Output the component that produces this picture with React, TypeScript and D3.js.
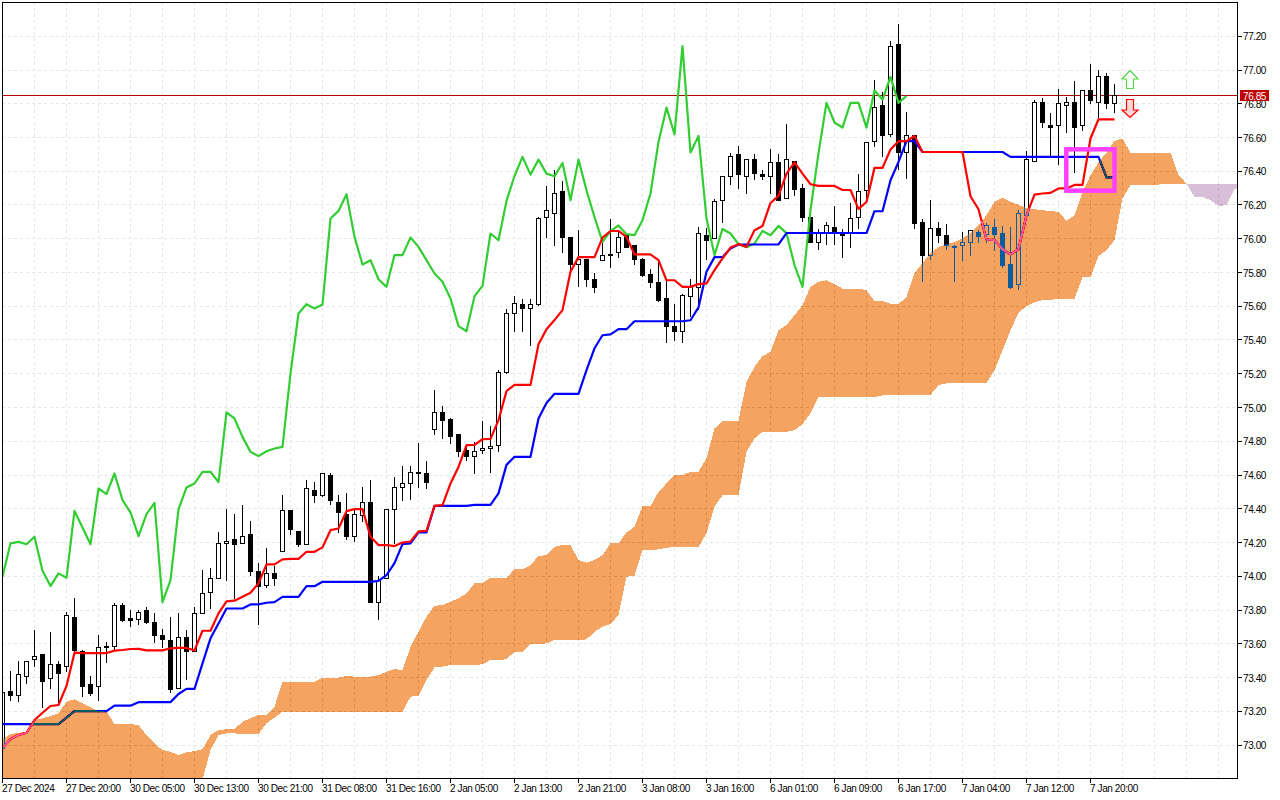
import React from "react";
import * as d3 from "d3";

const opens = [
  72.98,73.319,73.292,73.404,73.507,73.537,73.394,73.477,73.464,73.756,
  73.554,73.359,73.345,73.576,73.582,73.827,73.748,73.744,73.797,73.726,
  73.649,73.62,73.335,73.637,73.554,73.779,73.904,73.987,74.194,74.218,
  74.194,74.248,74.028,73.945,74.017,74.147,74.39,74.263,74.188,74.51,
  74.477,74.597,74.437,74.368,74.234,74.358,74.437,73.843,73.985,74.396,
  74.528,74.55,74.607,74.611,74.87,74.972,74.931,74.84,74.745,74.708,
  74.745,74.757,74.775,75.208,75.557,75.613,75.587,75.61,76.126,76.15,
  76.28,76.008,75.848,75.877,75.759,75.869,75.905,75.917,76.021,75.96,
  75.879,75.788,75.741,75.646,75.482,75.448,75.655,75.711,76.021,76.0,
  76.227,76.369,76.5,76.369,76.47,76.383,76.371,76.452,76.239,76.456,
  76.297,76.125,75.977,76.031,76.066,76.031,76.031,76.125,76.288,76.574,
  76.791,76.617,77.153,76.509,76.609,76.096,75.9,76.06,76.021,75.952,
  75.96,75.978,76.039,76.027,76.067,76.031,75.849,75.727,76.135,76.455,
  76.807,76.671,76.671,76.787,76.807,76.669,76.878,76.807,76.96,76.802,
];
const highs = [
  73.474,73.438,73.497,73.497,73.681,73.539,73.669,73.497,73.79,73.87,
  73.562,73.408,73.651,73.61,73.839,73.839,73.799,73.799,73.817,73.783,
  73.685,73.758,73.781,73.679,73.815,74.036,74.046,74.261,74.398,74.368,
  74.421,74.327,74.076,74.165,74.06,74.479,74.39,74.263,74.569,74.556,
  74.613,74.609,74.481,74.496,74.392,74.528,74.57,74.001,74.396,74.589,
  74.656,74.652,74.789,74.682,75.103,75.008,74.935,74.842,74.763,74.797,
  74.919,74.89,75.221,75.581,75.66,75.642,75.642,76.126,76.312,76.41,
  76.341,76.008,76.051,75.877,75.8,75.972,76.12,76.041,76.021,75.962,
  75.883,75.818,75.863,75.755,75.611,75.672,75.761,76.067,76.063,76.238,
  76.367,76.511,76.547,76.47,76.5,76.41,76.529,76.5,76.679,76.456,
  76.323,76.189,76.06,76.098,76.193,76.06,76.209,76.386,76.57,76.939,
  76.87,77.17,77.271,76.75,76.609,76.12,76.228,76.098,76.09,75.962,
  76.041,76.051,76.051,76.096,76.12,76.074,76.07,76.169,76.519,76.821,
  76.837,76.746,76.89,76.841,76.933,76.88,77.034,77.0,76.98,76.92,
];
const lows = [
  72.98,73.262,73.256,73.36,73.464,73.217,73.333,73.246,73.434,73.552,
  73.286,73.292,73.26,73.487,73.562,73.726,73.697,73.712,73.716,73.606,
  73.574,73.306,73.329,73.385,73.552,73.779,73.805,73.987,73.973,73.866,
  74.194,74.003,73.712,73.928,73.943,74.145,74.244,74.175,74.188,74.435,
  74.471,74.421,74.257,74.214,74.204,74.323,73.843,73.74,73.985,74.194,
  74.445,74.451,74.524,74.516,74.836,74.814,74.783,74.707,74.684,74.605,
  74.724,74.613,74.737,75.2,75.449,75.449,75.364,75.6,76.006,75.958,
  75.917,75.814,75.715,75.715,75.676,75.869,75.826,75.885,75.946,75.844,
  75.776,75.711,75.626,75.385,75.395,75.385,75.537,75.577,75.873,76.0,
  76.094,76.318,76.294,76.268,76.347,76.347,76.264,76.225,76.239,76.254,
  76.1,75.977,75.932,75.962,75.962,75.887,75.946,76.06,76.209,76.544,
  76.485,76.604,76.406,76.357,76.06,75.744,75.877,75.972,75.932,75.745,
  75.869,75.899,75.976,75.972,75.926,75.828,75.7,75.695,76.128,76.455,
  76.657,76.485,76.436,76.627,76.387,76.637,76.801,76.713,76.77,76.746,
];
const closes = [
  73.31,73.292,73.418,73.493,73.525,73.375,73.477,73.422,73.768,73.562,
  73.345,73.304,73.578,73.584,73.827,73.736,73.74,73.785,73.724,73.647,
  73.623,73.327,73.637,73.554,73.779,73.898,73.987,74.194,74.206,74.188,
  74.236,74.026,73.937,74.017,73.987,74.39,74.277,74.186,74.52,74.481,
  74.609,74.447,74.376,74.234,74.368,74.437,73.843,73.973,74.396,74.528,
  74.55,74.615,74.615,74.554,74.97,74.925,74.826,74.737,74.708,74.739,
  74.757,74.769,75.207,75.557,75.617,75.585,75.611,76.12,76.168,76.268,
  76.006,75.848,75.877,75.759,75.711,75.899,75.899,76.008,75.946,75.875,
  75.784,75.739,75.636,75.478,75.448,75.662,75.715,76.03,75.987,76.218,
  76.367,76.486,76.381,76.47,76.385,76.367,76.452,76.225,76.468,76.292,
  76.125,75.977,76.031,76.078,76.037,76.017,76.12,76.28,76.57,76.777,
  76.613,77.139,76.509,76.611,76.09,75.898,76.06,76.017,75.962,75.946,
  75.978,76.049,76.015,76.079,76.027,75.843,75.709,76.15,76.47,76.807,
  76.687,76.657,76.8,76.807,76.657,76.876,76.817,76.96,76.8,76.847,
];

const tenkan = [
  72.982,73.035,73.059,73.073,73.148,73.191,73.231,73.237,73.35,73.547,
  73.545,73.545,73.545,73.545,73.559,73.563,73.569,73.57,73.561,73.561,
  73.561,73.573,73.575,73.575,73.561,73.677,73.677,73.78,73.851,73.855,
  73.878,73.902,73.958,74.07,74.07,74.1,74.103,74.103,74.145,74.145,
  74.171,74.273,74.283,74.386,74.398,74.398,74.234,74.185,74.185,74.179,
  74.2,74.206,74.266,74.269,74.417,74.421,74.55,74.648,74.777,74.779,
  74.812,74.814,74.925,75.097,75.134,75.134,75.134,75.375,75.464,75.518,
  75.577,75.804,75.891,75.891,75.891,76.007,76.046,76.046,76.011,75.907,
  75.907,75.907,75.873,75.754,75.754,75.715,75.715,75.731,75.735,75.814,
  75.883,75.948,75.968,75.952,76.051,76.075,76.212,76.254,76.386,76.453,
  76.386,76.323,76.313,76.313,76.313,76.289,76.289,76.177,76.218,76.42,
  76.42,76.529,76.578,76.578,76.609,76.514,76.514,76.514,76.514,76.514,
  76.514,76.252,76.175,75.994,75.993,75.938,75.907,75.938,76.14,76.262,
  76.268,76.272,76.298,76.298,76.319,76.319,76.594,76.708,76.708,76.708,
];
const kijun = [
  73.124,73.124,73.124,73.124,73.124,73.124,73.124,73.124,73.162,73.201,
  73.201,73.201,73.201,73.201,73.233,73.233,73.233,73.254,73.254,73.254,
  73.254,73.254,73.302,73.333,73.333,73.484,73.632,73.72,73.809,73.809,
  73.809,73.833,73.833,73.843,73.847,73.878,73.878,73.878,73.941,73.941,
  73.967,73.967,73.967,73.967,73.967,73.967,73.967,73.973,74.007,74.078,
  74.19,74.195,74.26,74.26,74.417,74.417,74.417,74.417,74.417,74.423,
  74.423,74.423,74.491,74.66,74.708,74.708,74.708,74.935,75.027,75.081,
  75.081,75.081,75.081,75.221,75.351,75.428,75.433,75.464,75.464,75.511,
  75.511,75.511,75.511,75.511,75.511,75.511,75.517,75.593,75.804,75.891,
  75.891,75.942,75.966,75.966,75.966,75.966,75.966,75.966,76.034,76.034,
  76.034,76.034,76.034,76.034,76.034,76.034,76.034,76.034,76.034,76.163,
  76.163,76.347,76.455,76.578,76.578,76.514,76.514,76.514,76.514,76.514,
  76.514,76.514,76.514,76.514,76.514,76.514,76.485,76.485,76.485,76.485,
  76.485,76.485,76.485,76.485,76.485,76.485,76.485,76.485,76.364,76.364,
];
const chikou = [
  73.997,74.195,74.204,74.19,74.234,74.032,73.942,74.017,73.991,74.387,
  74.289,74.19,74.52,74.487,74.609,74.451,74.378,74.238,74.368,74.435,
  73.847,73.977,74.396,74.526,74.55,74.619,74.619,74.558,74.971,74.935,
  74.826,74.737,74.712,74.741,74.757,74.767,75.202,75.557,75.612,75.587,
  75.61,76.12,76.165,76.264,76.011,75.847,75.873,75.76,75.715,75.903,
  75.903,76.007,75.952,75.873,75.794,75.745,75.646,75.482,75.452,75.66,
  75.721,76.031,75.991,76.224,76.372,76.485,76.38,76.469,76.386,76.37,
  76.449,76.228,76.469,76.287,76.129,75.981,76.045,76.079,76.027,76.021,
  76.11,76.268,76.574,76.777,76.619,77.141,76.511,76.609,76.12,75.903,
  76.058,76.031,75.968,75.95,75.972,76.046,76.021,76.076,76.033,75.844,
  75.715,76.169,76.507,76.805,76.689,76.659,76.805,76.805,76.659,76.878,
  76.825,76.959,76.805,76.846,
];
const senkouA = [
  73.035,73.065,73.073,73.077,73.148,73.158,73.172,73.188,73.257,73.271,
  73.247,73.223,73.201,73.197,73.124,73.124,73.124,73.118,73.059,73.01,
  72.97,72.96,72.941,72.957,72.964,72.975,73.059,73.089,73.093,73.093,
  73.138,73.158,73.178,73.178,73.227,73.373,73.373,73.373,73.373,73.373,
  73.399,73.399,73.399,73.409,73.405,73.405,73.405,73.415,73.434,73.45,
  73.444,73.582,73.671,73.76,73.825,73.829,73.849,73.869,73.899,73.958,
  73.961,73.991,73.991,73.991,74.041,74.041,74.066,74.12,74.125,74.175,
  74.185,74.185,74.096,74.08,74.096,74.125,74.195,74.195,74.26,74.293,
  74.415,74.415,74.5,74.55,74.6,74.6,74.619,74.619,74.698,74.876,
  74.919,74.919,74.919,75.152,75.241,75.304,75.33,75.458,75.488,75.547,
  75.606,75.715,75.745,75.754,75.731,75.705,75.705,75.705,75.695,75.632,
  75.63,75.616,75.612,75.655,75.796,75.855,75.914,75.95,75.968,75.98,
  76.003,76.035,76.08,76.14,76.218,76.244,76.219,76.202,76.181,76.175,
  76.169,76.163,76.16,76.106,76.14,76.273,76.376,76.452,76.511,76.58,
  76.594,76.511,76.511,76.511,76.511,76.511,76.511,76.376,76.327,76.248,
  76.248,76.228,76.195,76.199,76.292,76.337,
];
const senkouB = [
  72.6,72.6,72.6,72.6,72.6,72.6,72.6,72.6,72.6,72.6,
  72.6,72.6,72.6,72.6,72.6,72.6,72.6,72.6,72.6,72.6,
  72.6,72.6,72.6,72.6,72.65,72.797,72.97,73.059,73.069,73.069,
  73.065,73.065,73.065,73.129,73.162,73.197,73.197,73.197,73.197,73.197,
  73.197,73.197,73.197,73.197,73.197,73.197,73.197,73.197,73.197,73.197,
  73.197,73.286,73.292,73.385,73.46,73.464,73.474,73.474,73.474,73.474,
  73.478,73.504,73.504,73.508,73.553,73.553,73.597,73.599,73.602,73.622,
  73.622,73.622,73.622,73.626,73.671,73.701,73.717,73.77,73.997,74.003,
  74.155,74.155,74.159,74.169,74.173,74.173,74.173,74.173,74.256,74.412,
  74.481,74.481,74.481,74.737,74.817,74.856,74.856,74.856,74.856,74.866,
  74.902,74.965,75.062,75.062,75.062,75.062,75.062,75.062,75.062,75.062,
  75.072,75.074,75.074,75.074,75.074,75.074,75.074,75.133,75.143,75.143,
  75.143,75.143,75.143,75.146,75.221,75.34,75.458,75.562,75.6,75.624,
  75.636,75.639,75.642,75.642,75.645,75.772,75.772,75.897,75.932,75.991,
  76.24,76.319,76.319,76.319,76.319,76.323,76.323,76.323,76.327,76.327,
  76.327,76.327,76.327,76.327,76.327,76.327,
];

const priceTicks = d3.range(73, 77.21, 0.2);
const timeLabels = [
  "27 Dec 2024","27 Dec 20:00","30 Dec 05:00","30 Dec 13:00","30 Dec 21:00","31 Dec 08:00",
  "31 Dec 16:00","2 Jan 05:00","2 Jan 13:00","2 Jan 21:00","3 Jan 08:00","3 Jan 16:00",
  "6 Jan 01:00","6 Jan 09:00","6 Jan 17:00","7 Jan 04:00","7 Jan 12:00","7 Jan 20:00",
];
const lastPrice = 76.85;
const signalBoxFrom = 133;
const signalBoxTo = 139;
const signalBoxHigh = 76.53;
const signalBoxLow = 76.285;

const LEFT = 2, RIGHT = 1238, TOP = 2, BOTTOM = 779;
const FONT = "'Liberation Sans', Arial, sans-serif";
const x = d3.scaleLinear().domain([0, 1]).range([2.5, 10.5]);
const y = d3.scaleLinear().domain([73, 77.2]).range([745, 36.25]);
const snap = (v: number) => Math.round(v - 0.5) + 0.5;

const lineOf = d3.line<number>().x((_, i) => x(i)).y((d) => y(d));
const cloudIdx = d3.range(senkouA.length);
const areaOf = d3.area<number>().x((i) => x(i)).y0((i) => y(senkouB[i])).y1((i) => y(senkouA[i]));
const bullIdx = cloudIdx.filter((i) => i <= 148);
const bearIdx = cloudIdx.filter((i) => i >= 148);

const verticalGrid = d3.range(Math.ceil((RIGHT - 2.5) / 32)).map((k) => x(k * 4));

export default function App() {
  const boxL = x(signalBoxFrom) - 0.2;
  const boxR = x(signalBoxTo);
  const priceY = snap(y(lastPrice));
  return (
    <svg
      width={1280}
      height={800}
      viewBox="0 0 1280 800"
      style={{ position: "fixed", left: 0, top: 0, display: "block", background: "#fff" }}
    >
      <defs>
        <clipPath id="plot">
          <rect x={LEFT} y={TOP} width={RIGHT - LEFT} height={BOTTOM - TOP} />
        </clipPath>
      </defs>
      <g clipPath="url(#plot)" style={{ isolation: "isolate" }}>
        <rect x={0} y={0} width={1280} height={800} fill="#fff" />
        <g stroke="#e6e6e6" strokeWidth={1} strokeDasharray="3 3" shapeRendering="crispEdges">
          {priceTicks.map((t) => (
            <line key={t} x1={LEFT} x2={RIGHT} y1={snap(y(t))} y2={snap(y(t))} />
          ))}
          {verticalGrid.map((g) => (
            <line key={g} x1={g} x2={g} y1={TOP} y2={BOTTOM} />
          ))}
        </g>
        <line x1={LEFT} x2={RIGHT} y1={priceY} y2={priceY} stroke="#b40000" strokeWidth={1} shapeRendering="crispEdges" />
        <g shapeRendering="crispEdges">
          {opens.map((o, i) => {
            const c = closes[i];
            const top = snap(y(Math.max(o, c)));
            const bot = snap(y(Math.min(o, c)));
            return (
              <g key={i}>
                <line x1={x(i)} x2={x(i)} y1={y(highs[i])} y2={y(lows[i])} stroke="#000" strokeWidth={1} />
                <rect
                  x={x(i) - 2}
                  y={top}
                  width={4}
                  height={Math.max(bot - top, 1)}
                  fill={c >= o ? "#fff" : "#000"}
                  stroke="#000"
                  strokeWidth={1}
                />
              </g>
            );
          })}
        </g>
        <g fill="none" strokeWidth={2.2} strokeLinejoin="round">
          <path d={lineOf(chikou) ?? ""} stroke="#32cd32" />
          <path d={lineOf(kijun) ?? ""} stroke="#0000ff" />
          <path d={lineOf(tenkan) ?? ""} stroke="#ff0000" />
        </g>
        <g style={{ mixBlendMode: "difference" }} shapeRendering="crispEdges">
          <path d={areaOf(bullIdx) ?? ""} fill="#0b5b9f" />
          <path d={areaOf(bearIdx) ?? ""} fill="#274027" />
        </g>
      </g>

      <rect
        x={boxL}
        y={y(signalBoxHigh)}
        width={boxR - boxL}
        height={y(signalBoxLow) - y(signalBoxHigh)}
        fill="none"
        stroke="#ff40ff"
        strokeWidth={4.5}
      />

      <path
        d="M1130 70.5 L1138 79 L1133.5 79 L1133.5 88.5 L1126.5 88.5 L1126.5 79 L1122 79 Z"
        fill="#fff"
        stroke="#55d84a"
        strokeWidth={1.2}
      />
      <path
        d="M1130 117.5 L1138 110 L1133.5 110 L1133.5 99.5 L1126.5 99.5 L1126.5 110 L1122 110 Z"
        fill="#ffd6d6"
        stroke="#ff0000"
        strokeWidth={1.2}
      />

      <g shapeRendering="crispEdges" stroke="#000" strokeWidth={1}>
        <line x1={LEFT} x2={RIGHT} y1={2.5} y2={2.5} />
        <line x1={2.5} x2={2.5} y1={2} y2={BOTTOM} />
        <line x1={RIGHT - 0.5} x2={RIGHT - 0.5} y1={2} y2={BOTTOM} />
        <line x1={LEFT} x2={RIGHT} y1={BOTTOM - 0.5} y2={BOTTOM - 0.5} />
        {priceTicks.map((t) => (
          <line key={t} x1={RIGHT - 0.5} x2={RIGHT + 4} y1={snap(y(t))} y2={snap(y(t))} />
        ))}
        {timeLabels.map((_, k) => (
          <line key={k} x1={x(k * 8)} x2={x(k * 8)} y1={BOTTOM} y2={BOTTOM + 4} />
        ))}
      </g>
      <g fontFamily={FONT} fontSize={10} letterSpacing={-0.4} fill="#000">
        {priceTicks.map((t) => (
          <text key={t} x={1243} y={y(t) + 4.2}>
            {t.toFixed(2)}
          </text>
        ))}
        {timeLabels.map((l, k) => (
          <text key={l} x={x(k * 8) - 0.5} y={792}>
            {l}
          </text>
        ))}
      </g>
      <rect x={1240} y={90} width={29} height={11} fill="#c00000" />
      <text x={1243} y={y(lastPrice) + 4.2} fontFamily={FONT} fontSize={10} letterSpacing={-0.4} fill="#fff">
        {lastPrice.toFixed(2)}
      </text>
    </svg>
  );
}
